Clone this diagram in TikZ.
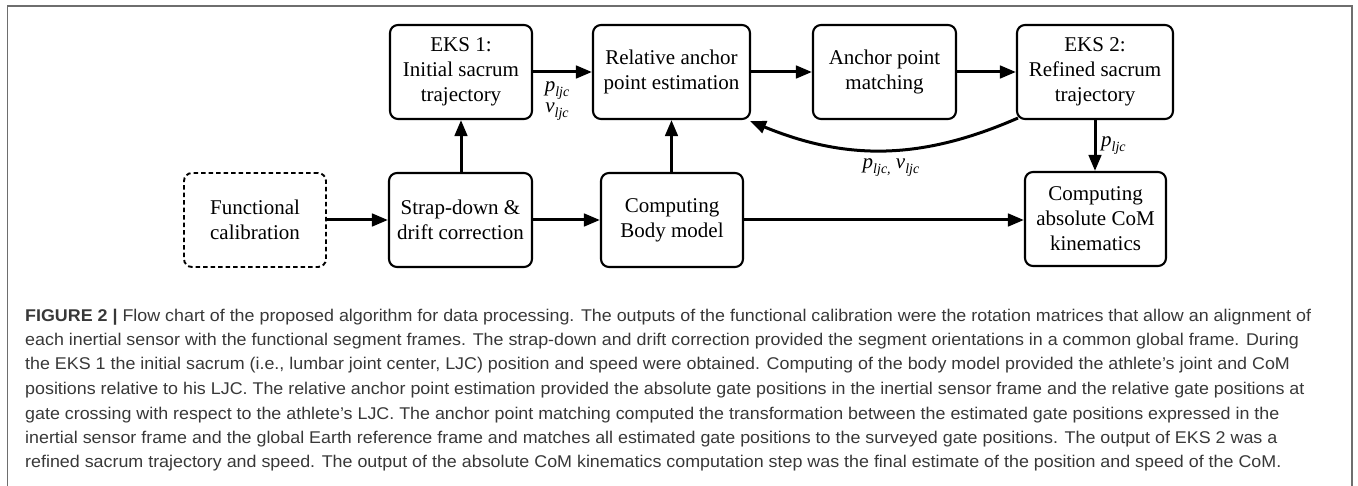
\documentclass[tikz,border=0pt]{standalone}
\usepackage{fontspec}
\setmainfont{Liberation Serif}
\newfontfamily\capfont{Liberation Sans}
\usetikzlibrary{arrows.meta}
\definecolor{capgray}{HTML}{383838}
\definecolor{framegray}{HTML}{6E6E6E}
\newsavebox\capbox
\newlength\caplen
\newcommand\qv[2]{\textit{#1}\raisebox{-5pt}{\fontsize{14}{14}\selectfont\textit{#2}}}
\newcommand\capA{\textbf{FIGURE 2 |} Flow chart of the proposed algorithm for data processing. The outputs of the functional calibration were the rotation matrices that allow an alignment of}
\begin{document}
\sbox\capbox{\capfont\fontsize{17}{17}\selectfont\capA}%
\setlength\caplen{\wd\capbox}%
\pgfmathsetmacro\capratio{1286/\caplen}%
\begin{tikzpicture}[x=1pt,y=1pt,
  box/.style={draw, line width=2.1pt, rounded corners=8pt, minimum height=94pt, align=center,
    font=\fontsize{21}{25}\selectfont, inner sep=0pt},
  dbox/.style={box, line width=1.9pt, dash pattern=on 4.5pt off 3pt},
  arr/.style={line width=3pt, -{Triangle[length=16pt,width=12.5pt]}},
  lab/.style={inner sep=0pt, anchor=base, font=\fontsize{21}{21}\selectfont},
  capline/.style={anchor=base west, inner sep=0pt, text=capgray, font=\capfont\fontsize{17}{17}\selectfont},
]
\useasboundingbox (0,0) rectangle (1358,-486);
% frame
\draw[framegray, line width=1.5pt] (7.5,-490) -- (7.5,-6) -- (1352,-6) -- (1352,-490);

% top row
\node[box, minimum width=142pt] (eks1) at (461,-72) {EKS 1:\\Initial sacrum\\trajectory};
\node[box, minimum width=157pt] (rel) at (671.5,-72) {Relative anchor\\point estimation};
\node[box, minimum width=143pt] (anc) at (884.5,-72) {Anchor point\\matching};
\node[box, minimum width=156pt] (eks2) at (1095,-72) {EKS 2:\\Refined sacrum\\trajectory};
% middle row
\node[dbox, minimum width=142pt] (func) at (255,-220) {Functional\\calibration};
\node[box, minimum width=143pt] (strap) at (460.5,-220) {Strap-down \&\\drift correction};
\node[box, minimum width=142pt] (body) at (672,-220) {Computing\\Body model};
\node[box, minimum width=141pt] (com) at (1095.5,-219) {Computing\\absolute CoM\\kinematics};

% connectors
\draw[arr] (func) -- (strap);
\draw[arr] (strap) -- (body);
\draw[arr] (body.east) -- (body.east -| com.west);
\draw[arr] (strap.north -| eks1.south) -- (eks1.south);
\draw[arr] (body.north -| rel.south) -- (rel.south);
\draw[arr] (eks1) -- (rel);
\draw[arr] (rel) -- (anc);
\draw[arr] (anc) -- (eks2);
\draw[arr] (eks2.south) -- (eks2.south |- com.north);
\draw[arr] ([xshift=2pt,yshift=2pt]eks2.south west) to[bend left=23] ([xshift=-1pt,yshift=-1pt]rel.south east);

% labels
\node[lab] (l1) at (557,-92) {\qv{p}{ljc}};
\node[lab] (l2) at (557,-113) {\qv{v}{ljc}};
\node[lab, anchor=base west] (l3) at (1101,-147) {\qv{p}{ljc}};
\node[lab] (l4) at (891,-169) {\qv{p}{ljc,} \qv{v}{ljc}};

% caption
\node[capline] (c1) at (25,-322) {\scalebox{\capratio}[1]{\capA}};
\node[capline] (c2) at (25,-346) {\scalebox{\capratio}[1]{each inertial sensor with the functional segment frames. The strap-down and drift correction provided the segment orientations in a common global frame. During}};
\node[capline] (c3) at (25,-370) {\scalebox{\capratio}[1]{the EKS 1 the initial sacrum (i.e., lumbar joint center, LJC) position and speed were obtained. Computing of the body model provided the athlete’s joint and CoM}};
\node[capline] (c4) at (25,-395) {\scalebox{\capratio}[1]{positions relative to his LJC. The relative anchor point estimation provided the absolute gate positions in the inertial sensor frame and the relative gate positions at}};
\node[capline] (c5) at (25,-419) {\scalebox{\capratio}[1]{gate crossing with respect to the athlete’s LJC. The anchor point matching computed the transformation between the estimated gate positions expressed in the}};
\node[capline] (c6) at (25,-443) {\scalebox{\capratio}[1]{inertial sensor frame and the global Earth reference frame and matches all estimated gate positions to the surveyed gate positions. The output of EKS 2 was a}};
\node[capline] (c7) at (25,-467) {\scalebox{\capratio}[1]{refined sacrum trajectory and speed. The output of the absolute CoM kinematics computation step was the final estimate of the position and speed of the CoM.}};
\end{tikzpicture}
\end{document}
